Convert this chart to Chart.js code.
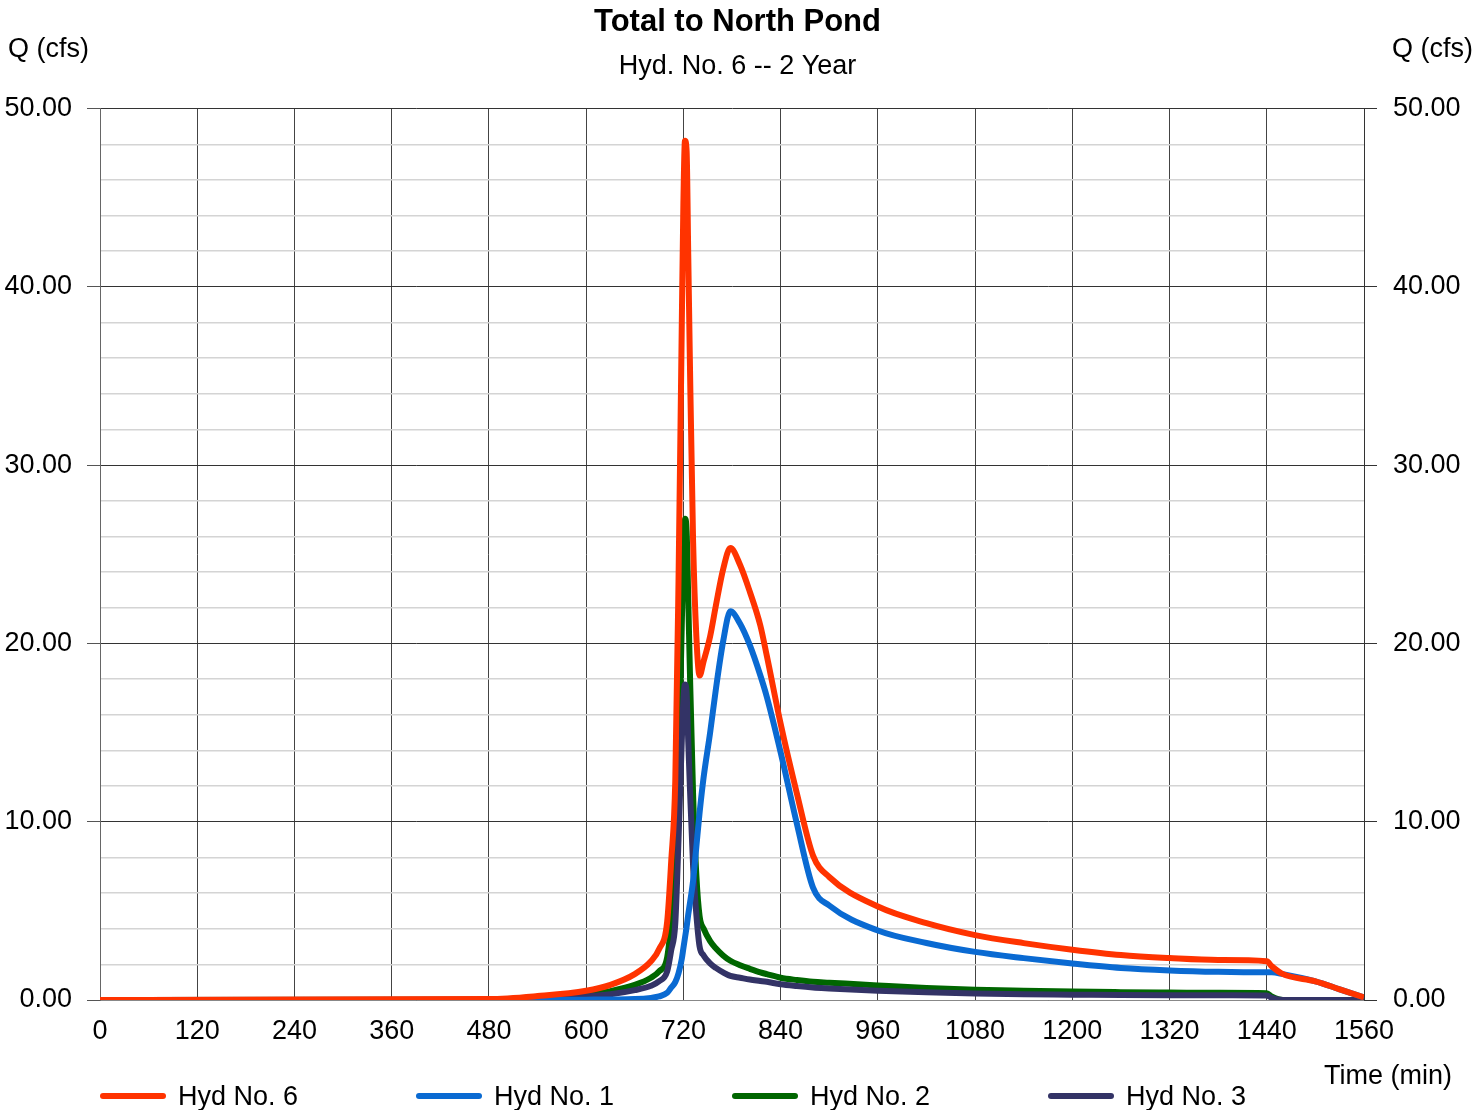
<!DOCTYPE html>
<html>
<head>
<meta charset="utf-8">
<title>Total to North Pond</title>
<script src="https://cdn.jsdelivr.net/npm/chart.js@4.4.1/dist/chart.umd.min.js"></script>
<style>
  html, body { margin: 0; padding: 0; background: #fff; }
  canvas { display: block; }
</style>
</head>
<body>
<canvas id="hydroChart" width="1475" height="1110"></canvas>
<script>
// Tiempos (min) y caudales (cfs)
const times = [0, 480, 540, 600, 630, 660, 680, 690, 700, 705,
  710, 714, 718, 720, 722, 724, 726, 728, 732, 736,
  740, 745, 753, 760, 769, 778, 790, 802, 815, 823,
  840, 860, 880, 900, 960, 1020, 1080, 1140, 1200, 1260,
  1320, 1380, 1440, 1446, 1460, 1500, 1530, 1560];

const hyd6 = [0, 0.05, 0.22, 0.52, 0.85, 1.45, 2.17, 2.85, 4.4, 7.8,
  12.3, 23.5, 37.8, 44.7, 48.2, 47.6, 41.8, 35.9, 25.7, 20.4,
  18.2, 19.0, 20.4, 22.1, 24.15, 25.35, 24.4, 22.9, 21.0, 19.3,
  15.5, 11.6, 8.1, 6.9, 5.24, 4.31, 3.64, 3.19, 2.82, 2.52,
  2.35, 2.24, 2.18, 1.9, 1.45, 1.05, 0.6, 0.15];

const hyd1 = [0, 0, 0, 0.02, 0.03, 0.05, 0.12, 0.2, 0.4, 0.7,
  1.0, 1.5, 2.3, 2.9, 3.5, 4.1, 4.8, 5.4, 6.7, 8.6,
  10.5, 12.5, 15.0, 17.4, 20.1, 21.8, 21.1, 19.9, 18.2, 17.0,
  13.9, 9.9, 6.3, 5.3, 3.9, 3.2, 2.7, 2.35, 2.05, 1.8,
  1.66, 1.58, 1.55, 1.55, 1.45, 1.05, 0.6, 0.15];

const hyd2 = [0, 0.02, 0.12, 0.3, 0.5, 0.85, 1.25, 1.6, 2.4, 4.3,
  7.0, 13.0, 21.0, 25.0, 27.0, 26.3, 22.5, 18.5, 11.5, 7.0,
  4.7, 4.0, 3.3, 2.9, 2.5, 2.2, 1.95, 1.75, 1.55, 1.45,
  1.25, 1.12, 1.02, 0.97, 0.82, 0.68, 0.58, 0.52, 0.47, 0.44,
  0.42, 0.4, 0.38, 0.2, 0, 0, 0, 0];

const hyd3 = [0, 0.01, 0.08, 0.2, 0.32, 0.55, 0.8, 1.05, 1.6, 2.8,
  4.3, 9.0, 14.5, 16.8, 17.7, 17.2, 14.5, 12.0, 7.5, 4.8,
  3.0, 2.5, 2.05, 1.8, 1.55, 1.35, 1.25, 1.15, 1.07, 1.02,
  0.88, 0.78, 0.7, 0.65, 0.52, 0.43, 0.36, 0.32, 0.3, 0.28,
  0.27, 0.26, 0.25, 0.12, 0, 0, 0, 0];

const seriesLabels = ['Hyd No. 6', 'Hyd No. 1', 'Hyd No. 2', 'Hyd No. 3'];
const seriesColors = ['#ff3300', '#0a6ad2', '#006600', '#333366'];
const seriesValues = [hyd6, hyd1, hyd2, hyd3];
const drawOrder = [0, 1, 3, 2];   // rojo arriba, el azul marino sobre el verde

const FONT = '"Liberation Sans", Arial, sans-serif';
Chart.defaults.font.family = FONT;
Chart.defaults.color = '#000';

function toPoints(values) {
  return times.map((t, i) => ({ x: t, y: values[i] }));
}

// textos sueltos y leyenda dibujados a mano
const extraText = {
  id: 'extraText',
  afterDraw(chart) {
    const ctx = chart.ctx;
    ctx.save();
    ctx.fillStyle = '#000';
    ctx.textBaseline = 'middle';
    ctx.font = '27px ' + FONT;
    ctx.textAlign = 'left';
    ctx.fillText('Q (cfs)', 8, 50);
    ctx.textAlign = 'right';
    ctx.fillText('Q (cfs)', 1473, 50);
    ctx.fillText('Time (min)', 1452, 1077);

    ctx.textAlign = 'left';
    chart.data.datasets.forEach((ds, i) => {
      const x0 = 100 + 316 * i;
      ctx.strokeStyle = ds.borderColor;
      ctx.lineWidth = 6;
      ctx.lineCap = 'round';
      ctx.beginPath();
      ctx.moveTo(x0 + 3, 1096);
      ctx.lineTo(x0 + 63, 1096);
      ctx.stroke();
      ctx.fillText(ds.label, x0 + 78, 1098);
    });
    ctx.restore();
  }
};

const majorTick = v => v % 10 === 0;

new Chart(document.getElementById('hydroChart'), {
  type: 'line',
  data: {
    datasets: seriesLabels.map((label, i) => ({
      label: label,
      data: toPoints(seriesValues[i]),
      borderColor: seriesColors[i],
      backgroundColor: seriesColors[i],
      borderWidth: 6,
      pointRadius: 0,
      cubicInterpolationMode: 'monotone',
      fill: false,
      order: drawOrder[i],
      yAxisID: 'y'
    }))
  },
  options: {
    responsive: false,
    animation: false,
    layout: { padding: { top: 0, left: 0, right: 0, bottom: 70 } },
    plugins: {
      legend: { display: false },
      tooltip: { enabled: false },
      title: {
        display: true,
        text: 'Total to North Pond',
        color: '#000',
        font: { size: 31, weight: 'bold' },
        padding: { top: 4, bottom: 4 }
      },
      subtitle: {
        display: true,
        text: 'Hyd. No. 6 -- 2 Year',
        color: '#000',
        font: { size: 27 },
        padding: { top: 5, bottom: 26 }
      }
    },
    scales: {
      x: {
        type: 'linear',
        min: 0,
        max: 1560,
        afterFit: s => { s.height = 40; },
        ticks: {
          stepSize: 120,
          font: { size: 27 },
          padding: 15,
          maxRotation: 0,
          callback: v => String(v)
        },
        grid: { color: '#444', lineWidth: 1, drawTicks: false },
        border: { color: '#888', width: 1 }
      },
      y: {
        position: 'left',
        min: 0,
        max: 50,
        afterFit: s => { s.width = 100; },
        ticks: {
          stepSize: 2,
          font: { size: 27 },
          padding: 15,
          autoSkip: false,
          callback: v => majorTick(v) ? v.toFixed(2) : ''
        },
        grid: {
          tickLength: 13,
          color: c => majorTick(c.tick.value) ? '#333' : '#d4d4d4',
          lineWidth: c => majorTick(c.tick.value) ? 1 : 1.5,
          tickColor: c => majorTick(c.tick.value) ? '#555' : 'rgba(0,0,0,0)'
        },
        border: { color: '#666', width: 1 }
      },
      y2: {
        position: 'right',
        min: 0,
        max: 50,
        afterFit: s => { s.width = 111; },
        ticks: {
          stepSize: 2,
          font: { size: 27 },
          padding: 16,
          autoSkip: false,
          callback: v => majorTick(v) ? v.toFixed(2) : ''
        },
        grid: {
          drawOnChartArea: false,
          tickLength: 13,
          tickColor: c => majorTick(c.tick.value) ? '#333' : 'rgba(0,0,0,0)'
        },
        border: { color: '#333', width: 1 }
      }
    }
  },
  plugins: [extraText]
});
</script>
</body>
</html>
